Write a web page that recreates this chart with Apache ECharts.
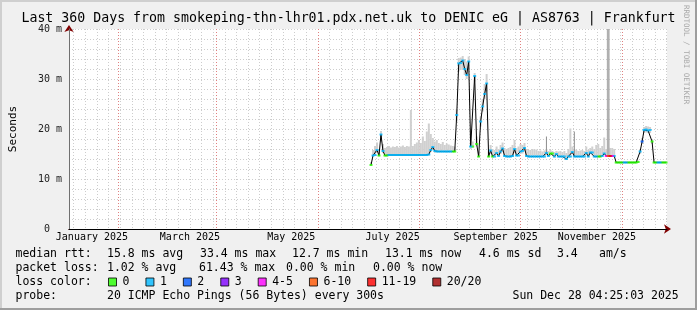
<!DOCTYPE html>
<html><head><meta charset="utf-8">
<script src="https://cdn.jsdelivr.net/npm/echarts@6/dist/echarts.min.js"></script>
<style>html,body{margin:0;padding:0;background:#f0f0f0}#c{width:697px;height:310px}</style>
</head><body><div id="c"></div>
<script>
// ---------------- data ----------------
// x unit: day of year 2025 (Jan 1 00:00 UTC = 0)
const rangeStartDay = 1.18406;   // Jan 2 2025 04:25:03
const rangeEndDay = 361.18406;   // Dec 28 2025 04:25:03
const firstSampleDay = 183.0;
const sampleStepDays = 1.2;

const medianMs = [
 12.8,14.7,14.8,15.8,14.7,18.9,15.6,14.7,14.7,14.8,
 14.8,14.8,14.8,14.8,14.8,14.8,14.8,14.8,14.8,14.8,
 14.8,14.8,14.8,14.8,14.8,14.8,14.8,14.8,14.8,14.9,
 15.8,16.4,15.6,15.5,15.5,15.5,15.5,15.5,15.5,15.5,
 15.5,15.5,15.5,22.8,33.1,33.2,33.7,32.0,30.8,33.5,
 16.5,16.5,30.6,17.0,14.5,21.5,24.5,27.0,29.1,14.5,
 15.7,14.5,14.5,15.2,14.6,15.5,16.1,14.6,14.5,14.5,
 14.5,14.6,16.0,14.7,14.7,15.5,15.6,16.2,14.6,14.5,
 14.5,14.5,14.5,14.5,14.5,14.5,14.5,14.5,15.2,14.6,
 15.1,15.1,14.5,15.0,14.5,14.5,14.5,14.5,14.0,14.5,
 14.5,15.4,14.5,14.5,14.5,14.5,14.5,14.5,15.2,14.5,
 15.3,15.3,14.5,14.5,14.5,14.5,14.6,15.1,14.6,14.6,
 14.6,14.6,14.6,13.3,13.3,13.3,13.3,13.3,13.3,13.3,
 13.3,13.3,13.3,13.3,13.4,15.5,17.5,19.8,19.9,19.7,
 19.8,17.5,13.3,13.3,13.3,13.3,13.3,13.3,13.3
];
const lostPings = [
 0,1,1,1,0,1,1,0,0,1,
 1,1,1,1,1,1,1,1,1,1,
 1,1,1,1,1,1,1,1,1,1,
 1,1,1,1,1,1,1,1,1,1,
 1,0,0,1,1,1,1,1,1,1,
 1,0,1,0,0,1,1,1,1,0,
 1,0,1,1,1,1,1,1,1,1,
 1,1,1,1,1,1,1,1,1,1,
 1,1,1,1,1,1,1,1,1,1,
 0,0,1,1,1,1,1,1,1,1,
 1,1,1,1,1,1,1,1,1,1,
 1,1,1,1,0,0,1,1,4,8,
 12,5,1,0,0,0,0,1,1,0,
 0,0,0,0,0,1,2,1,1,1,
 1,0,0,0,1,1,0,0,0
];
const smokeLowMs = [
 12.6,14.5,14.6,15.3,14.5,17.5,15.2,14.5,14.5,14.6,
 14.6,14.6,14.6,14.6,14.6,14.6,14.6,14.6,14.6,14.6,
 14.6,14.6,14.6,14.6,14.6,14.6,14.6,14.6,14.6,14.7,
 15.4,15.8,15.3,15.3,15.3,15.3,15.3,15.3,15.3,15.3,
 15.3,15.3,15.3,21.5,31.5,31.8,32.0,30.8,30.0,31.8,
 16.0,16.2,29.5,16.5,14.3,20.5,23.5,26.0,27.5,14.3,
 15.0,14.3,14.3,14.8,14.4,15.0,15.4,14.4,14.3,14.3,
 14.3,14.4,15.2,14.5,14.5,15.0,15.1,15.5,14.4,14.3,
 14.3,14.3,14.3,14.3,14.3,14.3,14.3,14.3,14.8,14.4,
 14.8,14.8,14.3,14.7,14.3,14.3,14.3,14.3,13.8,14.3,
 14.3,15.0,14.3,14.3,14.3,14.3,14.3,14.3,14.9,14.3,
 15.0,15.0,14.3,14.3,14.3,14.3,14.4,14.8,14.4,14.4,
 14.4,14.4,14.4,13.1,13.1,13.1,13.1,13.1,13.1,13.1,
 13.1,13.1,13.1,13.1,13.2,15.0,17.0,19.2,19.3,19.2,
 19.2,17.0,13.1,13.1,13.1,13.1,13.1,13.1,13.1
];
const smokeHighMs = [
 13.4,15.8,16.6,17.3,16.0,19.6,17.0,16.2,16.4,16.6,
 16.3,16.5,16.4,16.6,16.3,16.5,16.7,16.4,16.6,16.5,
 23.8,16.6,17.0,17.3,17.8,17.2,18.5,17.6,19.5,21.1,
 19.0,18.2,17.5,17.8,17.2,17.0,17.4,16.8,17.1,16.9,
 16.7,16.6,16.5,24.0,34.2,34.3,34.6,34.0,33.5,34.5,
 20.0,17.5,31.2,18.5,15.5,22.5,26.0,29.0,31.0,15.5,
 16.8,16.0,15.8,16.5,16.0,16.8,17.3,16.2,16.0,16.2,
 16.4,16.8,17.8,16.2,16.5,17.0,16.8,17.2,16.0,15.8,
 15.8,16.0,15.9,15.9,15.6,15.7,15.5,15.7,16.0,15.6,
 15.8,15.6,15.4,15.6,15.5,15.6,15.4,15.6,15.2,16.0,
 20.1,16.5,16.0,15.8,15.6,15.7,15.8,15.6,16.5,15.8,
 16.2,16.5,16.0,16.8,17.0,16.2,16.6,18.3,16.0,16.4,
 16.2,16.2,16.0,13.6,13.6,13.6,13.6,13.6,13.6,13.6,
 13.6,13.6,13.6,13.6,13.7,16.0,18.2,20.4,20.6,20.5,
 20.4,18.0,13.6,13.6,13.6,13.6,13.6,13.6,13.6
];
// dense smoke spikes: sample index and top value
const darkSpikeIdx = [88, 102];
const darkSpikeTopMs = [18.5, 19.5];
const tallSpikeIdx = [119];
const tallSpikeTopMs = [60];

const weekGridFirstDay = 4;       // Sun Jan 5 2025
const majorGridDays = [31, 90, 151, 212, 273, 334];
const monthLabelDays = [15, 74, 135, 196, 258, 319];
const monthLabels = ['January 2025','March 2025','May 2025','July 2025','September 2025','November 2025'];

const lossBuckets = ['0','1','2','3','4-5','6-10','11-19','20/20'];
const lossBucketMax = [0, 1, 2, 3, 5, 10, 19, 20];
const lossColors = ['#26ff00','#00b8ff','#0059ff','#7e00ff','#ff00ff','#ff5500','#ff0000','#a10000'];

const titleText = 'Last 360 Days from smokeping-thn-lhr01.pdx.net.uk to DENIC eG | AS8763 | Frankfurt';
const rttStats = ['15.8 ms avg','33.4 ms max','12.7 ms min','13.1 ms now','4.6 ms sd','3.4','am/s'];
const lossStats = ['1.02 % avg','61.43 % max','0.00 % min','0.00 % now'];
const probeText = '20 ICMP Echo Pings (56 Bytes) every 300s';
const stampText = 'Sun Dec 28 04:25:03 2025';

// ---------------- build ----------------
const sampleDays = medianMs.map((_, i) => firstSampleDay + i * sampleStepDays);
const weekDays = [];
for (let d = weekGridFirstDay; d <= rangeEndDay; d += 7) weekDays.push(d);

function bucketOf(n) { for (let i = 0; i < lossBucketMax.length; i++) if (n <= lossBucketMax[i]) return i; return lossBucketMax.length - 1; }

const MONO = '"DejaVu Sans Mono", monospace';
const xBase = { type: 'value', min: rangeStartDay, max: rangeEndDay, gridIndex: 0, position: 'bottom',
  axisLine: { show: false }, axisTick: { show: false }, axisLabel: { show: false }, splitLine: { show: false } };
const yBase = { type: 'value', min: 0, max: 40, gridIndex: 0, position: 'left',
  axisLine: { show: false }, axisTick: { show: false }, axisLabel: { show: false }, splitLine: { show: false } };

function bandSeries(name, data, color, widthSteps, z) {
  return { type: 'custom', name, data, z, silent: true, clip: true,
    renderItem: (params, api) => {
      const x = api.value(0);
      const lo = api.coord([x, api.value(1)]);
      const hi = api.coord([x, api.value(2)]);
      const w = api.size([sampleStepDays * widthSteps, 0])[0];
      return { type: 'rect', shape: { x: lo[0] - w / 2, y: hi[1], width: w, height: lo[1] - hi[1] },
        style: { fill: color } };
    } };
}

const series = [
  bandSeries('smoke', sampleDays.map((d, i) => [d, smokeLowMs[i], smokeHighMs[i]]), '#d0d0d0', 1, 1),
  bandSeries('darkSpikes', darkSpikeIdx.map((k, j) => [sampleDays[k], medianMs[k], darkSpikeTopMs[j]]), '#8c8c8c', 0.5, 2),
  bandSeries('tallSpikes', tallSpikeIdx.map((k, j) => [sampleDays[k], medianMs[k], tallSpikeTopMs[j]]), '#b0b0b0', 1.4, 2),
  { type: 'line', name: 'median', data: sampleDays.map((d, i) => [d, medianMs[i]]), symbol: 'none',
    lineStyle: { color: '#000', width: 1 }, silent: true, z: 3 }
];
lossBuckets.forEach((name, b) => {
  series.push({ type: 'scatter', name, symbol: 'rect', symbolSize: [3, 2], itemStyle: { color: lossColors[b] }, z: 4, silent: true,
    data: sampleDays.map((d, i) => [d, medianMs[i], lostPings[i]]).filter(p => bucketOf(p[2]) === b) });
});

const T = (text, x, y, extra) => Object.assign({ type: 'text', x, y, silent: true,
  style: { text, font: '11.5px ' + MONO, fill: '#000', verticalAlign: 'middle', align: 'left' } }, extra || {});

const rttX = [107, 200, 292, 385, 479, 557, 599];
const lossX = [107, 199, 286, 373];
const graphics = [
  { type: 'rect', shape: { x: 0, y: 0, width: 697, height: 2 }, style: { fill: '#cfcfcf' }, silent: true },
  { type: 'rect', shape: { x: 0, y: 0, width: 2, height: 310 }, style: { fill: '#cfcfcf' }, silent: true },
  { type: 'rect', shape: { x: 695, y: 0, width: 2, height: 310 }, style: { fill: '#9e9e9e' }, silent: true },
  { type: 'rect', shape: { x: 0, y: 308, width: 697, height: 2 }, style: { fill: '#9e9e9e' }, silent: true },
  { type: 'text', x: 686, y: 5, rotation: -Math.PI / 2, silent: true,
    style: { text: 'RRDTOOL / TOBI OETIKER', font: '7.5px ' + MONO, fill: '#a8a8a8', verticalAlign: 'middle', align: 'left' } },
  T('median rtt:', 15.5, 254.5), T('packet loss:', 15.5, 268.5), T('loss color:', 15.5, 282), T('probe:', 15.5, 296),
  T(probeText, 107, 296), T(stampText, 512.5, 296)
];
rttStats.forEach((s, i) => graphics.push(T(s, rttX[i], 254.5)));
lossStats.forEach((s, i) => graphics.push(T(s, lossX[i], 268.5)));

const option = {
  animation: false,
  backgroundColor: '#f0f0f0',
  title: { text: titleText, left: 'center', top: 11, padding: 0,
    textStyle: { fontFamily: MONO, fontSize: 13.25, fontWeight: 'normal', color: '#000', lineHeight: 16 } },
  grid: { left: 67, right: 30, top: 29, bottom: 81, show: true, backgroundColor: '#ffffff', borderWidth: 0 },
  legend: { data: lossBuckets, left: 108, top: 276, itemWidth: 8, itemHeight: 8, itemGap: 16, icon: 'rect',
    selectedMode: false, padding: 0,
    itemStyle: { borderColor: '#000', borderWidth: 1 },
    textStyle: { fontFamily: MONO, fontSize: 11.5, color: '#000', padding: [0, 0, 0, 1] } },
  xAxis: [
    Object.assign({}, xBase),
    Object.assign({}, xBase, { axisTick: { show: false, customValues: weekDays },
      splitLine: { show: true, lineStyle: { color: '#cdcdcd', width: 1, type: [1, 2] } } }),
    Object.assign({}, xBase, { axisTick: { show: false, customValues: majorGridDays },
      splitLine: { show: true, lineStyle: { color: '#e08080', width: 1, type: [1, 2] } } }),
    Object.assign({}, xBase, { z: 5,
      axisLine: { show: true, symbol: ['none', 'arrow'], symbolSize: [7, 7], symbolOffset: [0, 4], lineStyle: { color: '#800000', width: 1 } },
      axisLabel: { show: true, customValues: monthLabelDays, margin: 3, fontFamily: MONO, fontSize: 10, color: '#000',
        formatter: v => monthLabels[monthLabelDays.indexOf(v)] } }),
    Object.assign({}, xBase, { z: 6, axisLine: { show: true, lineStyle: { color: '#000', width: 1 } } })
  ],
  yAxis: [
    Object.assign({}, yBase, { interval: 10,
      axisLabel: { show: true, margin: 7, fontFamily: MONO, fontSize: 10, color: '#222',
        formatter: v => v === 0 ? '0  ' : v + ' m' },
      splitLine: { show: true, lineStyle: { color: '#e08080', width: 1, type: [1, 2] } },
      name: 'Seconds', nameLocation: 'middle', nameGap: 50, nameRotate: 90,
      nameTextStyle: { fontFamily: MONO, fontSize: 11, color: '#000' } }),
    Object.assign({}, yBase, { interval: 2,
      splitLine: { show: true, lineStyle: { color: '#cdcdcd', width: 1, type: [1, 2] } } }),
    Object.assign({}, yBase, { z: 5,
      axisLine: { show: true, symbol: ['none', 'arrow'], symbolSize: [7, 7], symbolOffset: [0, 4], lineStyle: { color: '#800000', width: 1 } } }),
    Object.assign({}, yBase, { z: 6, axisLine: { show: true, lineStyle: { color: '#707070', width: 1 } } })
  ],
  series,
  graphic: graphics
};
const chart = echarts.init(document.getElementById('c'), null, { renderer: 'canvas' });
chart.setOption(option);
</script></body></html>
